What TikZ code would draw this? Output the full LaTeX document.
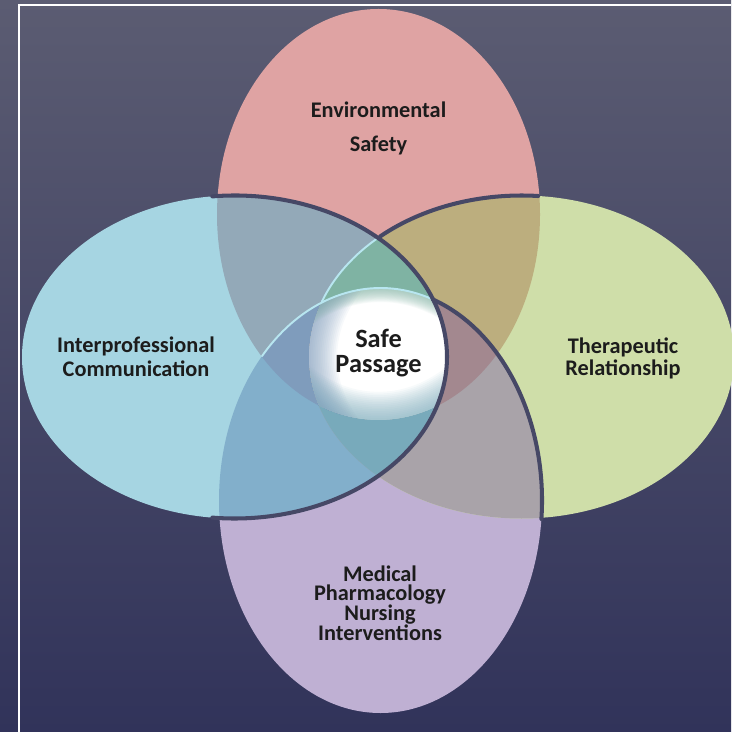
\documentclass[tikz,border=0pt]{standalone}
\usepackage{fontspec}
\setmainfont{Carlito}

\definecolor{bgtop}{HTML}{5B5C72}
\definecolor{bgbottom}{HTML}{31335A}
\definecolor{envcol}{HTML}{DFA3A3}
\definecolor{commcol}{HTML}{A6D5E2}
\definecolor{thercol}{HTML}{CFDEA9}
\definecolor{medcol}{HTML}{BFB0D3}
\definecolor{envcomm}{HTML}{93A9B8}
\definecolor{envther}{HTML}{BCAE7E}
\definecolor{commmed}{HTML}{82AFCB}
\definecolor{thermed}{HTML}{A9A3A9}
\definecolor{envcommther}{HTML}{7FB3A3}
\definecolor{envthermed}{HTML}{A3888F}
\definecolor{envcommmed}{HTML}{7F9CBC}
\definecolor{commthermed}{HTML}{78AABB}
\definecolor{rim}{HTML}{464866}
\definecolor{rimlight}{HTML}{B8E6F0}
\definecolor{labeltext}{HTML}{1C1C1C}

\newcommand{\ellEnv}{(378.5,214.5) ellipse [x radius=161.5, y radius=205.5]}
\newcommand{\ellComm}{(234.5,357) ellipse [x radius=212.5, y radius=161.5]}
\newcommand{\ellTher}{(521.5,357) ellipse [x radius=212.5, y radius=161.5]}
\newcommand{\ellMed}{(380.5,500.5) ellipse [x radius=161.5, y radius=212.5]}

\begin{document}
\begin{tikzpicture}[x=0.02cm, y=-0.02cm,
    lbl/.style={font=\bfseries\fontsize{12.7}{#1}\selectfont\setlength\lineskiplimit{-20pt},
      align=center, text=labeltext, inner sep=0pt},
    darkrim/.style={draw=rim, line width=2.3pt, line cap=round},
    lightrim/.style={draw=rimlight, line width=1.1pt, line cap=round},
    glow/.style={draw=#1, draw opacity=0.06}]
			\useasboundingbox (0,0) rectangle (731,732);
			\shade[top color=bgtop, bottom color=bgbottom] (0,0) rectangle (731,732);
			\draw[white, line width=0.8pt] (19,732) -- (19,5) -- (731,5);

			\coordinate (cenv) at (378.5,214.5);
			\coordinate (ccomm) at (234.5,357);
			\coordinate (cther) at (521.5,357);
			\coordinate (cmed) at (380.5,500.5);

			\fill[envcol] \ellEnv;
			\fill[medcol] \ellMed;
			\fill[thercol] \ellTher;
			\fill[commcol] \ellComm;

			\begin{scope} \clip \ellEnv; \fill[envcomm] \ellComm; \fill[envther] \ellTher; \end{scope}
			\begin{scope} \clip \ellMed; \fill[commmed] \ellComm; \fill[thermed] \ellTher; \end{scope}
			\begin{scope} \clip \ellEnv; \clip \ellComm; \fill[envcommther] \ellTher; \fill[envcommmed] \ellMed; \end{scope}
			\begin{scope} \clip \ellMed; \clip \ellTher; \fill[envthermed] \ellEnv; \fill[commthermed] \ellComm; \end{scope}

			\begin{scope}
				\clip \ellEnv; \clip \ellComm; \clip \ellTher; \clip \ellMed;
				\fill[white] (280,270) rectangle (470,440);
				\foreach \w in {2,4,...,32} {
					\draw[glow=envcommmed, line width=\w pt] \ellTher;
					\draw[glow=commthermed, line width=\w pt] \ellEnv;
					\draw[glow=envcommther, line width=0.5*\w pt] \ellMed;
				}
			\end{scope}

			\draw[lightrim] (cmed) ++(-137.2:161.5 and 212.5) arc[start angle=-137.2, end angle=-71, x radius=161.5, y radius=212.5];
			\draw[lightrim] (cther) ++(-131.7:212.5 and 161.5) arc[start angle=-131.7, end angle=-160, x radius=212.5, y radius=161.5];

			\draw[darkrim] (ccomm) ++(-96:212.5 and 161.5) arc[start angle=-96, end angle=96, x radius=212.5, y radius=161.5];
			\draw[darkrim] (cther) ++(-85.5:212.5 and 161.5) arc[start angle=-85.5, end angle=-131.7, x radius=212.5, y radius=161.5];
			\draw[darkrim] (cmed) ++(-71:161.5 and 212.5) arc[start angle=-71, end angle=5, x radius=161.5, y radius=212.5];

			\node[lbl=19.3pt] (envsafety) at (378.5,128.5) {Environmental\\Safety};
			\node[lbl=13.6pt] (interprof) at (136,357) {Interprofessional\\Communication};
			\node[lbl=12.7pt] (therapeutic) at (623,358.5) {Therapeutic\\Relationship};
			\node[lbl=14.2pt, font=\bfseries\fontsize{15}{14.2}\selectfont] (safepassage) at (378.5,353) {Safe\\Passage};
			\node[lbl=11.2pt] (medpharm) at (380,603) {Medical\\Pharmacology\\Nursing\\Interventions};
\end{tikzpicture}
\end{document}
